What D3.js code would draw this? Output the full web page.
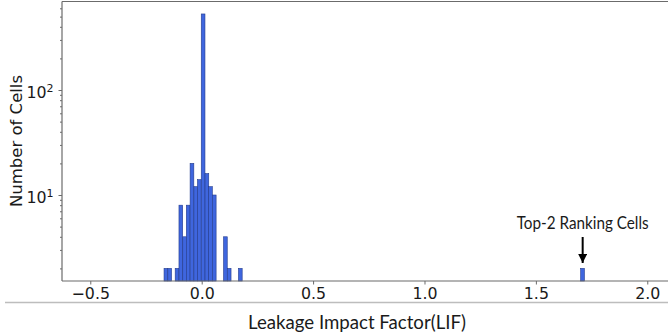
<!DOCTYPE html>
<html><head><meta charset="utf-8">
<script src="https://cdn.jsdelivr.net/npm/d3@7"></script>
<style>
html,body{margin:0;padding:0;background:#fff;}
svg{display:block;}
</style></head>
<body>
<svg id="chart" width="668" height="335"></svg>
<script>
// ---- data ----
const binWidth = 0.0167;
const binStarts = [-0.169, -0.152, -0.119, -0.102, -0.085, -0.069, -0.052, -0.035, -0.019, -0.002, 0.015, 0.031, 0.048, 0.098, 0.115, 0.165, 1.701];
const cellCounts = [2, 2, 2, 8, 4, 8, 20, 12, 14, 530, 16, 12, 10, 4, 2, 2, 2];
const xTicks = [-0.5, 0.0, 0.5, 1.0, 1.5, 2.0];
const yMajorTicks = [10, 100];
const yMinorTicks = [2,3,4,5,6,7,8,9,20,30,40,50,60,70,80,90,200,300,400,500,600];
const annotationText = "Top-2 Ranking Cells";
const annotationValue = 1.71;

const svg = d3.select("#chart");
const L = 62, R = 668, T = 1.5, B = 281;

const x = d3.scaleLinear().domain([-0.627, 2.093]).range([L, R]);
const y = d3.scaleLog().domain([1.517, 696.6]).range([B, T]);

const barFill = "#3f66de", barStroke = "#233b8c";

// bars
svg.append("g").selectAll("rect").data(binStarts.map((s,i)=>({s, c: cellCounts[i]})))
  .join("rect")
  .attr("x", d => x(d.s))
  .attr("width", d => x(d.s + binWidth) - x(d.s))
  .attr("y", d => y(d.c))
  .attr("height", d => B - y(d.c))
  .attr("fill", barFill)
  .attr("stroke", barStroke)
  .attr("stroke-width", 0.6);

const font = "'DejaVu Sans', sans-serif";
const spine = "#6b6b6b";

// x axis
const xAxis = svg.append("g").attr("transform", `translate(0,${B})`)
  .call(d3.axisBottom(x).tickValues(xTicks).tickSize(3.5).tickPadding(3)
    .tickFormat(d => d3.format(".1f")(d).replace("-", "\u2212")));
xAxis.select(".domain").remove();
xAxis.selectAll(".tick line").attr("stroke", spine);
xAxis.selectAll(".tick text").attr("font-family", font).attr("font-size", 15.8).attr("fill", "#1a1a1a");

// y axis
const yAxis = svg.append("g").attr("transform", `translate(${L},0)`)
  .call(d3.axisLeft(y).tickValues(yMajorTicks).tickSize(3.5).tickPadding(5).tickFormat(""));
yAxis.select(".domain").remove();
yAxis.selectAll(".tick line").attr("stroke", spine);
yAxis.selectAll(".tick text").each(function(d){
  const t = d3.select(this);
  t.text(null).attr("font-family", font).attr("font-size", 15.8).attr("fill", "#1a1a1a").attr("dy", "0.45em");
  t.append("tspan").text("10");
  t.append("tspan").attr("dy", "-0.5em").attr("font-size", 11).text(String(Math.round(Math.log10(d))));
});
const yMinor = svg.append("g").attr("transform", `translate(${L},0)`)
  .call(d3.axisLeft(y).tickValues(yMinorTicks).tickSize(2).tickFormat(""));
yMinor.select(".domain").remove();
yMinor.selectAll(".tick line").attr("stroke", spine);

// spines
svg.append("line").attr("x1", L).attr("x2", L).attr("y1", T).attr("y2", B).attr("stroke", spine).attr("stroke-width", 1.2);
svg.append("line").attr("x1", L).attr("x2", R).attr("y1", T).attr("y2", T).attr("stroke", spine).attr("stroke-width", 1.2);
svg.append("line").attr("x1", L).attr("x2", R).attr("y1", B).attr("y2", B).attr("stroke", spine).attr("stroke-width", 1.2);

// separator line
svg.append("line").attr("x1", 5).attr("x2", 668).attr("y1", 302.5).attr("y2", 302.5).attr("stroke", "#bdbdbd").attr("stroke-width", 1.3);

// axis labels
svg.append("text").attr("transform", "translate(22,141) rotate(-90)")
  .attr("text-anchor", "middle").attr("font-family", font).attr("font-size", 16.5).attr("fill", "#1a1a1a")
  .text("Number of Cells");

const calib = "Lato, 'Open Sans', sans-serif";
svg.append("text").attr("x", 357).attr("y", 329)
  .attr("text-anchor", "middle").attr("font-family", calib).attr("font-size", 19.5).attr("fill", "#1a1a1a")
  .attr("textLength", 218).attr("lengthAdjust", "spacingAndGlyphs")
  .text("Leakage Impact Factor(LIF)");

// annotation
const ax = x(annotationValue);
svg.append("text").attr("x", ax).attr("y", 229)
  .attr("text-anchor", "middle").attr("font-family", calib).attr("font-size", 17.5).attr("fill", "#1a1a1a")
  .attr("textLength", 132).attr("lengthAdjust", "spacingAndGlyphs")
  .text(annotationText);

svg.append("defs").append("marker").attr("id", "ah").attr("viewBox", "0 0 10 10")
  .attr("refX", 10).attr("refY", 5).attr("markerWidth", 4.5).attr("markerHeight", 4.5)
  .attr("markerUnits", "strokeWidth").attr("orient", "auto")
  .append("path").attr("d", "M0,0 L10,5 L0,10 Z").attr("fill", "#000");
svg.append("line").attr("x1", ax).attr("x2", ax).attr("y1", 237).attr("y2", 263)
  .attr("stroke", "#000").attr("stroke-width", 2).attr("marker-end", "url(#ah)");
</script>
</body></html>
